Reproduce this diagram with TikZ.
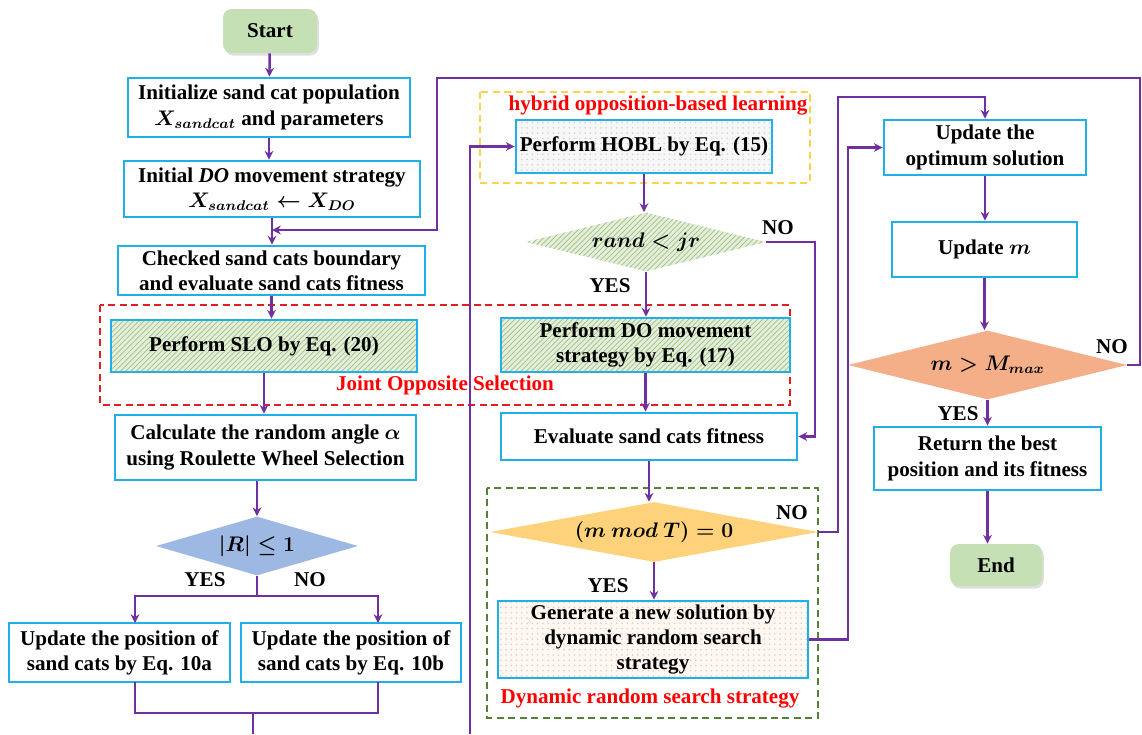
\documentclass[tikz,border=0pt]{standalone}
\usepackage{amsmath, amssymb}
\usepackage{fontspec}
\setmainfont{Liberation Serif}
\usetikzlibrary{shapes.geometric,arrows.meta,patterns,shadows}
\definecolor{flow}{HTML}{7030A0}
\definecolor{edge}{HTML}{1EB0E6}
\definecolor{termfill}{HTML}{C5E0B4}
\definecolor{hatchbg}{HTML}{E4EFD9}
\definecolor{hatchln}{HTML}{A3C088}
\definecolor{bluedec}{HTML}{9DB8E2}
\definecolor{moddec}{HTML}{FDD27A}
\definecolor{maxdec}{HTML}{F4AE88}
\definecolor{yelgrp}{HTML}{FFD24D}
\definecolor{grngrp}{HTML}{548235}
\definecolor{redgrp}{HTML}{E02020}
\tikzset{
  box/.style={draw=edge,line width=1.6pt,fill=white,align=center,inner sep=1pt},
  hatch/.style={preaction={fill=hatchbg},pattern=north east lines,pattern color=hatchln},
  stipple/.style={preaction={fill=#1},pattern=dots,pattern color=gray!35},
  term/.style={rounded corners=5pt,fill=termfill,drop shadow={opacity=.25,shadow xshift=1pt,shadow yshift=-1.5pt}},
  decide/.style={diamond,inner sep=0pt,aspect=#1},
  arr/.style={draw=flow,line width=1.4pt,-{Stealth[length=5pt,width=5pt]}},
  wire/.style={draw=flow,line width=1.4pt},
  grpbox/.style={line width=1.2pt,dash pattern=on 4pt off 2.5pt},
  note/.style={text=red}
}
\begin{document}
\begin{tikzpicture}[x=0.02cm,y=-0.02cm,font=\bfseries\boldmath\fontsize{12}{14.4}\selectfont]
\useasboundingbox (0,0) rectangle (1142,734);
% groups
\draw[grpbox,draw=redgrp] (100,305) rectangle (790,405);
\draw[grpbox,draw=yelgrp] (480,92) rectangle (810,183);
\draw[grpbox,draw=grngrp] (487,488) rectangle (818,718);
\node[note] (jos) at (445,385) {Joint Opposite Selection};
\node[note] (hobltxt) at (658,106) {hybrid opposition-based learning};
\node[note] (drstxt) at (650,698) {Dynamic random search strategy};
% left column
\node[term,minimum width=1.88cm,minimum height=0.88cm] (start) at (270,31) {Start};
\node[box,minimum width=5.64cm,minimum height=1.18cm] (init) at (269,107.5) {Initialize sand cat population\\$X_{sandcat}$ and parameters};
\node[box,minimum width=5.92cm,minimum height=1.12cm] (initdo) at (272,189) {Initial \textit{DO} movement strategy\\$X_{sandcat}\leftarrow X_{DO}$};
\node[box,minimum width=6.14cm,minimum height=0.98cm] (check) at (271.5,270.5) {Checked sand cats boundary\\and evaluate sand cats fitness};
\node[box,hatch,minimum width=6.12cm,minimum height=1.04cm] (slo) at (264,346) {Perform SLO by Eq. (20)};
\node[box,minimum width=6.02cm,minimum height=1.30cm] (calc) at (265.5,447.5) {Calculate the random angle $\alpha$\\using Roulette Wheel Selection};
\node[decide=3.4,fill=bluedec,minimum width=4.04cm,minimum height=1.18cm] (dR) at (257,546) {$|R|\le 1$};
\node[box,minimum width=4.42cm,minimum height=1.18cm] (upa) at (119.5,652.5) {Update the position of\\sand cats by Eq. 10a};
\node[box,minimum width=4.40cm,minimum height=1.18cm] (upb) at (351,652.5) {Update the position of\\sand cats by Eq. 10b};
% middle column
\node[box,stipple=gray!6,minimum width=5.12cm,minimum height=1.06cm] (hobl) at (644,146.5) {Perform HOBL by Eq. (15)};
\node[decide=4,hatch,minimum width=4.80cm,minimum height=1.18cm] (drand) at (646,242) {$rand<jr$};
\node[box,hatch,minimum width=5.78cm,minimum height=1.08cm] (dobox) at (645.5,345) {Perform DO movement\\strategy by Eq. (17)};
\node[box,minimum width=5.92cm,minimum height=0.94cm] (eval) at (649,436.5) {Evaluate sand cats fitness};
\node[decide=5.5,fill=moddec,minimum width=6.56cm,minimum height=1.20cm] (dmod) at (654,532) {$(m\ mod\ T)=0$};
\node[box,stipple=orange!6,minimum width=6.20cm,minimum height=1.54cm] (gen) at (653,639.5) {Generate a new solution by\\dynamic random search\\strategy};
% right column
\node[box,minimum width=4.04cm,minimum height=1.10cm] (upopt) at (985,147.5) {Update the\\optimum solution};
\node[box,minimum width=3.70cm,minimum height=1.10cm] (upm) at (984.5,249.5) {Update $m$};
\node[decide=4,fill=maxdec,minimum width=5.58cm,minimum height=1.38cm] (dmax) at (987.5,365) {$m>M_{max}$};
\node[box,minimum width=4.54cm,minimum height=1.26cm] (ret) at (987.5,458.5) {Return the best\\position and its fitness};
\node[term,minimum width=1.84cm,minimum height=0.84cm] (end) at (996,565) {End};
% yes / no
\node (y1) at (205,580) {YES}; \node (n1) at (310,580) {NO};
\node (y2) at (610,286) {YES}; \node (n2) at (778,228) {NO};
\node (y3) at (608,586) {YES}; \node (n3) at (792,513) {NO};
\node (y4) at (958,414) {YES}; \node (n4) at (1112,347) {NO};
% bend points
\coordinate (rt) at (1140,78);
\coordinate (lp) at (437,230);
\coordinate (sp) at (257,596);
\coordinate (mg) at (253,713);
\coordinate (bl) at (253,734);
\coordinate (br) at (470,734);
\coordinate (nr) at (815,242);
\coordinate (t1) at (838,97);
\coordinate (c2) at (848,147.5);
% connectors
\draw[arr] (start) -- (init);
\draw[arr] (init.south) -- (init.south |- initdo.north);
\draw[arr] (initdo.south) -- (initdo.south |- check.north);
\draw[arr] (dmax.east) -| (rt) -| (lp) -- (lp -| initdo.south);
\draw[arr] (check.south) -- (check.south |- slo.north);
\draw[arr] (slo.south) -- (slo.south |- calc.north);
\draw[arr] (dR.north |- calc.south) -- (dR.north);
\draw[wire] (dR.south) -- (sp);
\draw[arr] (sp) -| (135,623);
\draw[arr] (sp) -| (378,623);
\draw[wire] (135,682) |- (mg) -| (378,682);
\draw[wire] (mg) -- (bl);
\draw[arr] (br) |- (hobl.west);
\draw[arr] (hobl) -- (hobl |- drand.north);
\draw[arr] (drand) -- (drand |- dobox.north);
\draw[arr] (drand.east) -| (nr) |- (eval.east);
\draw[arr] (dobox) -- (dobox |- eval.north);
\draw[arr] (eval) -- (eval |- dmod.north);
\draw[arr] (dmod) -- (dmod |- gen.north);
\draw[arr] (dmod.east) -| (t1) -| (upopt.north);
\draw[arr] (gen.east) -| (c2) -- (upopt.west);
\draw[arr] (upopt) -- (upopt |- upm.north);
\draw[arr] (upm) -- (upm |- dmax.north);
\draw[arr] (dmax) -- (dmax |- ret.north);
\draw[arr] (ret) -- (ret |- end.north);
\end{tikzpicture}
\end{document}
